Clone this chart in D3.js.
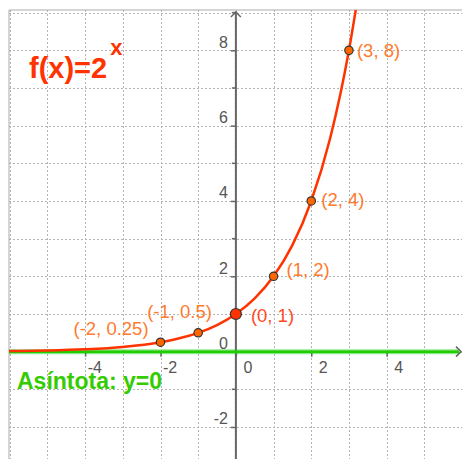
<!DOCTYPE html>
<html>
<head>
<meta charset="utf-8">
<script src="https://cdn.jsdelivr.net/npm/d3@7"></script>
<style>
  body { margin: 0; background: #fff; }
  text { font-family: "Liberation Sans", Arial, sans-serif; }
</style>
</head>
<body>
<div id="chart"></div>
<script>
// f(x) = 2^x
const pointX = [-2, -1, 0, 1, 2, 3];
const pointY = [0.25, 0.5, 1, 2, 4, 8];
const pointLabels = ["(-2, 0.25)", "(-1, 0.5)", "(0, 1)", "(1, 2)", "(2, 4)", "(3, 8)"];
// curve samples
const curveX = [-6.02, -5, -4, -3, -2, -1.5, -1, -0.5, 0, 0.5, 1, 1.5, 2, 2.5, 3, 3.2];
const curveY = [0.016, 0.031, 0.063, 0.125, 0.25, 0.354, 0.5, 0.707, 1, 1.414, 2, 2.828, 4, 5.657, 8, 9.19];
const xTicks = [-4, -2, 0, 2, 4];
const yTicks = [-2, 0, 2, 4, 6, 8];
const xGrid = d3.range(-6, 7);
const yGrid = d3.range(-2, 10);
const title = "f(x)=2";
const titleSup = "x";
const asymptoteLabel = "Asíntota: y=0";

const width = 462, height = 459;
const padLeft = 9, padTop = 10;

const svg = d3.select("#chart").append("svg")
    .attr("width", width).attr("height", height);

const x = d3.scaleLinear().domain([-6.02, 6.0]).range([padLeft, width]);
const y = d3.scaleLinear().domain([-2.85, 9.07]).range([height, padTop]);

svg.append("defs").append("clipPath").attr("id", "plot")
    .append("rect").attr("x", padLeft).attr("y", padTop)
    .attr("width", width - padLeft).attr("height", height - padTop);

// frame
svg.append("path")
    .attr("d", `M${padLeft},${height}V${padTop}H${width}`)
    .attr("fill", "none").attr("stroke", "#aaa").attr("stroke-width", 1);

// grid
const grid = svg.append("g").attr("stroke", "#b4b4b4").attr("stroke-dasharray", "2,2")
    .attr("shape-rendering", "crispEdges");
grid.selectAll(".gx").data(xGrid).enter().append("line")
    .attr("x1", d => Math.round(x(d)) + 0.5).attr("x2", d => Math.round(x(d)) + 0.5)
    .attr("y1", padTop).attr("y2", height);
grid.selectAll(".gy").data(yGrid).enter().append("line")
    .attr("y1", d => Math.round(y(d)) + 0.5).attr("y2", d => Math.round(y(d)) + 0.5)
    .attr("x1", padLeft).attr("x2", width);

// axes
const axisColor = "#666";
const xAxis = svg.append("g")
    .attr("transform", "translate(0," + y(0) + ")")
    .call(d3.axisBottom(x).tickValues(xTicks).tickSize(5).tickFormat(d => String(d)));
const yAxis = svg.append("g")
    .attr("transform", "translate(" + x(0) + ",0)")
    .call(d3.axisLeft(y).tickValues(yTicks).tickSize(5).tickFormat(d => String(d)));
[xAxis, yAxis].forEach(a => {
    a.select(".domain").remove();
    a.selectAll("line").attr("stroke", axisColor).attr("stroke-width", 1.5);
    a.selectAll("text").attr("fill", "#555").attr("font-size", 16)
        .attr("font-family", "'Liberation Sans', Arial, sans-serif");
});
xAxis.selectAll("line").attr("y1", 0);
xAxis.selectAll("text").attr("text-anchor", "start").attr("dy", 0)
    .attr("x", d => d < 0 ? 2 : 7).attr("y", 21);
yAxis.selectAll("text").attr("text-anchor", "end").attr("dy", 0)
    .attr("x", -8).attr("y", -3);
// minor ticks on y axis
svg.append("g").selectAll("line").data(yGrid.filter(d => d % 2 !== 0)).enter().append("line")
    .attr("x1", x(0) - 4).attr("x2", x(0))
    .attr("y1", d => y(d)).attr("y2", d => y(d))
    .attr("stroke", axisColor).attr("stroke-width", 1.5);

// y axis line and arrow
svg.append("line")
    .attr("x1", x(0)).attr("x2", x(0)).attr("y1", height).attr("y2", padTop + 1.5)
    .attr("stroke", axisColor).attr("stroke-width", 2);
svg.append("path")
    .attr("d", `M${x(0) - 5},${padTop + 7}L${x(0)},${padTop + 2}L${x(0) + 5},${padTop + 7}`)
    .attr("fill", "none").attr("stroke", axisColor).attr("stroke-width", 1.5);
// x axis arrow
svg.append("path")
    .attr("d", `M${width - 6},${y(0) - 5}L${width - 1},${y(0)}L${width - 6},${y(0) + 5}`)
    .attr("fill", "none").attr("stroke", axisColor).attr("stroke-width", 1.5);

const plot = svg.append("g").attr("clip-path", "url(#plot)");

// asymptote y = 0
plot.append("line")
    .attr("x1", padLeft).attr("x2", width - 3).attr("y1", y(0)).attr("y2", y(0))
    .attr("stroke", "#00cc00").attr("stroke-opacity", 0.45).attr("stroke-width", 5);
plot.append("line")
    .attr("x1", padLeft).attr("x2", width - 3).attr("y1", y(0)).attr("y2", y(0))
    .attr("stroke", "#22cc00").attr("stroke-width", 2.5);

// curve
const curve = curveX.map((v, i) => [v, curveY[i]]);
plot.append("path")
    .datum(curve)
    .attr("fill", "none").attr("stroke", "#ff3300").attr("stroke-width", 2.5)
    .attr("d", d3.line().x(d => x(d[0])).y(d => y(d[1])).curve(d3.curveMonotoneX));

// points
const points = pointX.map((v, i) => ({ x: v, y: pointY[i], label: pointLabels[i] }));
const labelOffset = { "-2": [-87, -7], "-1": [-51, -15], "0": [15, 8], "1": [13, 0], "2": [10, 5], "3": [8, 7] };
plot.selectAll("circle").data(points).enter().append("circle")
    .attr("cx", d => x(d.x)).attr("cy", d => y(d.y))
    .attr("r", d => d.x === 0 ? 5.5 : 4.2)
    .attr("fill", d => d.x === 0 ? "#ff3300" : "#ff6600")
    .attr("stroke", "#333").attr("stroke-width", 1.2);

svg.append("g").selectAll("text").data(points).enter().append("text")
    .attr("x", d => x(d.x) + labelOffset[d.x][0])
    .attr("y", d => y(d.y) + labelOffset[d.x][1])
    .attr("font-size", 18.5)
    .attr("fill", d => d.x === 0 ? "#ff4a26" : "#ff7a2e")
    .text(d => d.label);

// title
const t = svg.append("text")
    .attr("x", 29).attr("y", 78)
    .attr("font-size", 29).attr("font-weight", "bold").attr("fill", "#ff3300")
    .text(title);
t.append("tspan").attr("dx", 3).attr("dy", -23).attr("font-size", 22).text(titleSup);

svg.append("text")
    .attr("x", 17).attr("y", 389)
    .attr("font-size", 23).attr("font-weight", "bold").attr("fill", "#33cc00")
    .text(asymptoteLabel);
</script>
</body>
</html>
